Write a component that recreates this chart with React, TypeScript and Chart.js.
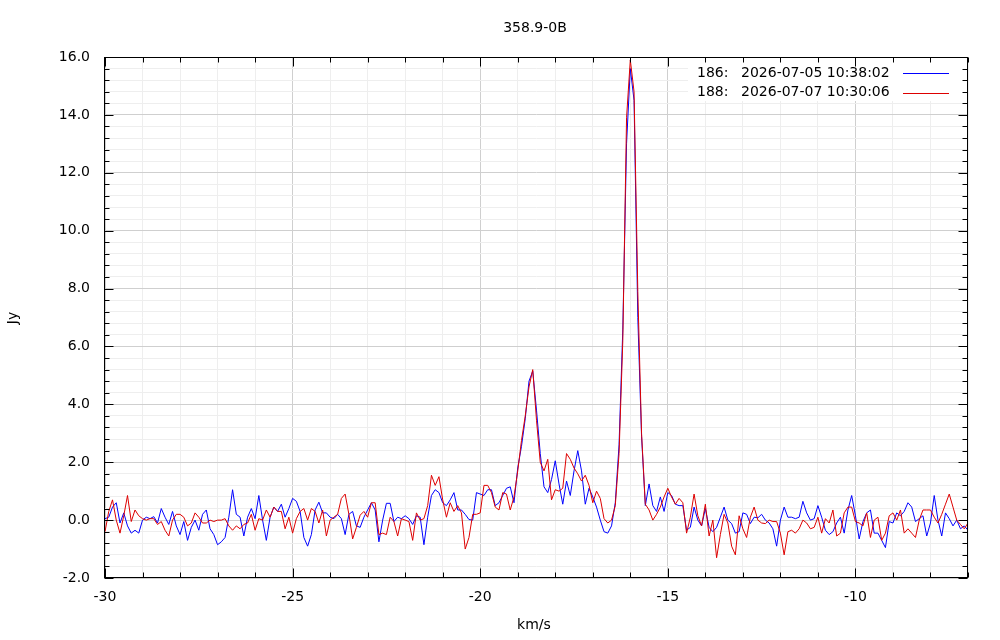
import React, { useEffect, useRef } from "react";
import Chart from "chart.js/auto";

const TITLE = "358.9-0B";
const X_LABEL = "km/s";
const Y_LABEL = "Jy";

const SCAN_IDS = ["186:", "188:"];
const SCAN_TIMES = ["2026-07-05 10:38:02", "2026-07-07 10:30:06"];
const SCAN_COLORS = ["#0000ff", "#dd0000"];

// velocity channels: -30.0 .. -7.0 km/s, 0.1 km/s apart
const V_START = -30;
const V_STEP = 0.1;

// flux density in Jy, scan 186 (blue)
const FLUX_186 = [
  0.05, 0.1, 0.45, 0.6, -0.1, 0.25, -0.2, -0.45, -0.35, -0.45,
  0.0, 0.1, 0.05, 0.12, -0.1, 0.4, 0.1, -0.15, 0.3, -0.2,
  -0.5, -0.05, -0.7, -0.25, 0.0, -0.35, 0.2, 0.35, -0.3, -0.5,
  -0.85, -0.75, -0.6, 0.1, 1.05, 0.2, 0.1, -0.55, 0.1, 0.4,
  0.05, 0.85, 0.0, -0.7, 0.1, 0.45, 0.3, 0.55, 0.1, 0.4,
  0.75, 0.65, 0.3, -0.6, -0.9, -0.5, 0.35, 0.62, 0.25, 0.25,
  0.1, 0.05, 0.2, 0.05, -0.5, 0.2, 0.3, -0.2, -0.25, 0.1,
  0.35, 0.6, 0.35, -0.75, 0.0, 0.58, 0.58, -0.05, 0.1, 0.05,
  0.15, 0.05, -0.15, 0.15, 0.1, -0.85, 0.1, 0.85, 1.05, 0.95,
  0.6, 0.5, 0.7, 0.95, 0.35, 0.35, 0.2, 0.02, 0.0, 0.95,
  0.9, 0.85, 1.05, 1.05, 0.5, 0.6, 0.85, 1.1, 1.15, 0.6,
  1.8, 2.55, 3.5, 4.8, 5.15, 3.8, 2.3, 1.15, 0.95, 1.4,
  2.05, 1.25, 0.55, 1.35, 0.85, 1.7, 2.4, 1.7, 0.55, 1.1,
  0.8, 0.45, 0.0, -0.4, -0.45, -0.2, 0.6, 2.6, 6.6, 13.0,
  15.6, 14.5, 7.0, 2.9, 0.5, 1.25, 0.5, 0.3, 0.8, 0.3,
  0.95, 0.85, 0.55, 0.5, 0.5, -0.35, -0.25, 0.45, 0.0, -0.2,
  0.4, -0.25, -0.4, -0.25, 0.1, 0.45, 0.0, -0.12, -0.45, -0.4,
  0.25, 0.2, -0.12, 0.1, 0.08, 0.2, 0.0, -0.1, -0.3, -0.9,
  0.0, 0.45, 0.1, 0.1, 0.05, 0.1, 0.65, 0.25, 0.0, 0.05,
  0.5, 0.1, -0.35, -0.5, -0.4, -0.1, 0.1, -0.45, 0.35, 0.85,
  0.15, -0.65, -0.05, 0.25, 0.35, -0.45, -0.45, -0.7, -0.95, -0.05,
  -0.1, 0.25, 0.15, 0.3, 0.6, 0.45, -0.05, 0.05, 0.15, -0.55,
  -0.1, 0.85, 0.0, -0.55, 0.25, 0.05, -0.2, 0.0, -0.3, -0.2, -0.35,
];

// flux density in Jy, scan 188 (red)
const FLUX_188 = [
  -0.4, 0.3, 0.7, 0.0, -0.45, 0.15, 0.85, -0.05, 0.35, 0.15,
  0.05, 0.0, 0.05, 0.05, -0.15, -0.05, -0.35, -0.55, 0.0, 0.2,
  0.2, 0.1, -0.2, -0.1, 0.25, 0.1, -0.1, -0.1, 0.0, -0.05,
  0.0, 0.0, 0.05, -0.2, -0.35, -0.2, -0.3, -0.15, -0.1, 0.2,
  -0.35, 0.05, 0.0, 0.35, 0.1, 0.45, 0.3, 0.3, -0.3, 0.1,
  -0.45, 0.05, 0.3, 0.4, 0.0, 0.4, 0.3, -0.1, 0.35, -0.55,
  0.0, 0.1, 0.2, 0.75, 0.9, 0.2, -0.65, -0.25, 0.17, 0.3,
  0.1, 0.6, 0.6, -0.5, -0.45, -0.5, 0.1, -0.05, -0.55, 0.05,
  0.0, -0.05, -0.7, 0.25, 0.0, 0.05, 0.5, 1.55, 1.2, 1.5,
  0.7, 0.1, 0.6, 0.3, 0.5, 0.25, -1.0, -0.6, 0.2, 0.2,
  0.25, 1.2, 1.2, 0.95, 0.45, 0.35, 0.95, 0.9, 0.35, 0.8,
  1.7, 2.75, 3.6, 4.6, 5.2, 3.45, 2.0, 1.7, 2.1, 0.7,
  1.05, 1.0, 1.1, 2.3, 2.1, 1.8, 1.6, 1.35, 1.55, 1.2,
  0.6, 1.0, 0.75, 0.05, -0.1, 0.0, 0.5, 2.3, 6.2, 13.9,
  15.9, 14.8, 7.9, 3.0, 0.55, 0.35, 0.0, 0.2, 0.45, 0.8,
  1.1, 0.8, 0.55, 0.75, 0.6, -0.45, 0.1, 0.9, 0.15, -0.2,
  0.55, -0.55, 0.0, -1.3, -0.5, 0.2, -0.1, -0.9, -1.2, 0.15,
  -0.3, -0.6, 0.1, 0.45, 0.0, -0.1, -0.12, 0.0, -0.05, -0.05,
  -0.45, -1.2, -0.4, -0.35, -0.45, -0.3, 0.0, -0.1, -0.3, -0.25,
  0.1, -0.45, 0.05, -0.1, 0.35, -0.55, -0.45, 0.25, 0.45, 0.45,
  -0.05, -0.1, -0.2, 0.25, -0.6, 0.0, 0.1, -0.7, -0.45, 0.15,
  0.25, 0.0, 0.35, -0.45, -0.3, -0.45, -0.6, 0.0, 0.35, 0.35,
  0.35, 0.1, -0.1, 0.2, 0.55, 0.9, 0.45, 0.0, -0.15, -0.3, -0.1,
];

const X_MIN = -30;
const X_MAX = -7;
const Y_MIN = -2;
const Y_MAX = 16;

const FONT = '14px "DejaVu Sans"';
const GRID_MAJOR = "#cfcfcf";
const GRID_MINOR = "#eeeeee";

const isMajor = (v: number, every: number) => Math.abs(v / every - Math.round(v / every)) < 1e-6;

const gnuplotFrame = {
  id: "gnuplotFrame",
  beforeDatasetsDraw(chart: any) {
    const { ctx, chartArea: a } = chart;
    // key box hides the grid behind it
    ctx.save();
    ctx.fillStyle = "#ffffff";
    ctx.fillRect(688, a.top, a.right - 688, 44);
    ctx.restore();
  },
  afterDraw(chart: any) {
    const { ctx, chartArea: a, scales } = chart;
    const left = Math.round(a.left) - 0.5;
    const right = Math.round(a.right) - 0.5;
    const top = Math.round(a.top) + 0.5;
    const bottom = Math.round(a.bottom) - 0.5;

    ctx.save();
    ctx.strokeStyle = "#000";
    ctx.lineWidth = 1;
    ctx.beginPath();

    // inward ticks on all four sides
    scales.x.ticks.forEach((t: any) => {
      const px = Math.round(scales.x.getPixelForValue(t.value)) + 0.5;
      const len = isMajor(t.value, 5) ? 9 : 5;
      ctx.moveTo(px, bottom);
      ctx.lineTo(px, bottom - len);
      ctx.moveTo(px, top);
      ctx.lineTo(px, top + len);
    });
    scales.y.ticks.forEach((t: any) => {
      const py = Math.round(scales.y.getPixelForValue(t.value)) + 0.5;
      const len = isMajor(t.value, 2) ? 9 : 5;
      ctx.moveTo(left, py);
      ctx.lineTo(left + len, py);
      ctx.moveTo(right, py);
      ctx.lineTo(right - len, py);
    });
    ctx.stroke();
    ctx.strokeRect(left, top, right - left, bottom - top);

    ctx.font = FONT;
    ctx.fillStyle = "#000";
    ctx.textBaseline = "middle";

    // title and axis names
    ctx.textAlign = "center";
    ctx.fillText(TITLE, 535, 28);
    ctx.fillText(X_LABEL, 534, 625);
    ctx.save();
    ctx.translate(13, 318);
    ctx.rotate(-Math.PI / 2);
    ctx.fillText(Y_LABEL, 0, 0);
    ctx.restore();

    // key
    ctx.textAlign = "left";
    SCAN_IDS.forEach((id, i) => {
      const y = 73 + i * 19.5;
      ctx.fillStyle = "#000";
      ctx.fillText(id, 697, y);
      ctx.fillText(SCAN_TIMES[i], 741, y);
      ctx.fillStyle = SCAN_COLORS[i];
      ctx.fillRect(903, Math.round(y), 46, 1);
    });
    ctx.restore();
  },
};

export default function App() {
  const canvasRef = useRef<HTMLCanvasElement | null>(null);
  const chartRef = useRef<Chart | null>(null);

  useEffect(() => {
    if (!canvasRef.current) return;
    if (chartRef.current) chartRef.current.destroy();

    const velocity = FLUX_186.map((_, i) => V_START + i * V_STEP);
    const toPoints = (flux: number[]) => flux.map((y, i) => ({ x: velocity[i], y }));

    chartRef.current = new Chart(canvasRef.current, {
      type: "line",
      data: {
        datasets: [
          {
            label: SCAN_IDS[0] + " " + SCAN_TIMES[0],
            data: toPoints(FLUX_186),
            borderColor: SCAN_COLORS[0],
            borderWidth: 1,
            pointRadius: 0,
            tension: 0,
            order: 2,
          },
          {
            label: SCAN_IDS[1] + " " + SCAN_TIMES[1],
            data: toPoints(FLUX_188),
            borderColor: SCAN_COLORS[1],
            borderWidth: 1,
            pointRadius: 0,
            tension: 0,
            order: 1,
          },
        ],
      },
      options: {
        responsive: false,
        animation: false,
        events: [],
        layout: { padding: { top: 57, right: 32, left: 0, bottom: 0 } },
        plugins: {
          legend: { display: false },
          tooltip: { enabled: false },
          title: { display: false },
        },
        scales: {
          x: {
            type: "linear",
            min: X_MIN,
            max: X_MAX,
            afterFit: (scale: any) => {
              scale.height = 62;
            },
            border: { display: false },
            grid: {
              drawTicks: false,
              color: (c: any) => (c.tick && isMajor(c.tick.value, 5) ? GRID_MAJOR : GRID_MINOR),
            },
            ticks: {
              stepSize: 1,
              autoSkip: false,
              maxRotation: 0,
              padding: 11,
              color: "#000",
              font: { family: "DejaVu Sans", size: 14 },
              callback: (v: any) => (isMajor(Number(v), 5) ? String(v) : ""),
            },
          },
          y: {
            type: "linear",
            min: Y_MIN,
            max: Y_MAX,
            afterFit: (scale: any) => {
              scale.width = 105;
            },
            border: { display: false },
            grid: {
              drawTicks: false,
              color: (c: any) => (c.tick && isMajor(c.tick.value, 2) ? GRID_MAJOR : GRID_MINOR),
            },
            ticks: {
              stepSize: 0.4,
              autoSkip: false,
              padding: 15,
              color: "#000",
              font: { family: "DejaVu Sans", size: 14 },
              callback: (v: any) => (isMajor(Number(v), 2) ? Number(v).toFixed(1) : ""),
            },
          },
        },
      },
      plugins: [gnuplotFrame],
    });

    return () => {
      if (chartRef.current) {
        chartRef.current.destroy();
        chartRef.current = null;
      }
    };
  }, []);

  return (
    <div style={{ position: "absolute", left: 0, top: 0, width: "1000px", height: "640px", background: "#fff" }}>
      <canvas ref={canvasRef} width={1000} height={640}></canvas>
    </div>
  );
}
